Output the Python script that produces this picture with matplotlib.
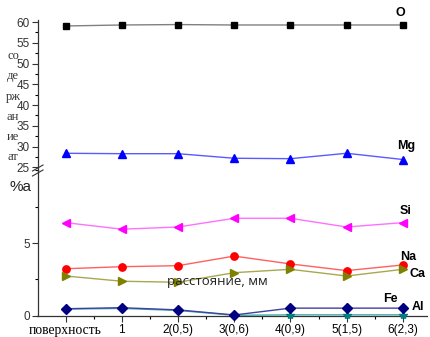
import matplotlib
matplotlib.use("Agg")
import matplotlib.pyplot as plt
from matplotlib.ticker import MultipleLocator, FixedLocator
from matplotlib.lines import Line2D

categories = ["поверхность", "1", "2(0,5)", "3(0,6)", "4(0,9)", "5(1,5)", "6(2,3)"]
O = [59.06, 59.3, 59.4, 59.3, 59.3, 59.3, 59.3]
Mg = [28.4, 28.3, 28.3, 27.2, 27.1, 28.4, 26.9]
Si = [6.4, 5.95, 6.1, 6.7, 6.7, 6.1, 6.4]
Na = [3.23, 3.37, 3.44, 4.1, 3.56, 3.1, 3.49]
Ca = [2.73, 2.37, 2.3, 2.96, 3.19, 2.73, 3.19]
Fe = [0.48, 0.55, 0.4, 0.05, 0.52, 0.52, 0.52]
Al = [0.45, 0.5, 0.36, 0.03, 0.06, 0.06, 0.06]
ylabel_parts = ["со", "де", "рж", "ан", "ие", "ат"]
xlabel = "расстояние, мм"

W, H = 430, 337
fig = plt.figure(figsize=(W / 100, H / 100), dpi=100)

def fx(px):
    return px / W

def fy(py):
    return 1 - py / H

left = fx(37.5)
width = fx(427) - left
ax_lo = fig.add_axes([left, fy(315.7), width, fy(170.3) - fy(315.7)])
ax_hi = fig.add_axes([left, fy(170.3), width, fy(20) - fy(170.3)])

x = list(range(len(categories)))
series_hi = [(O, "s", "black", "#808080", 5), (Mg, "^", "#0000ff", "#5a5aff", 6)]
series_lo = [
    (Si, "<", "#ff00ff", "#ff70ff", 6),
    (Na, "o", "#ff0000", "#ff6060", 5.3),
    (Ca, ">", "#808000", "#a8a850", 6),
    (Al, "*", "#008080", "#40b0b0", 6),
    (Fe, "D", "#000080", "#4040a0", 4.8),
]
for ax, series in ((ax_hi, series_hi), (ax_lo, series_lo)):
    for vals, m, mc, lc, ms in series:
        ax.plot(x, vals, color=lc, lw=1.0, zorder=2, clip_on=False)
        ax.plot(x, vals, ls="none", marker=m, color=mc, ms=ms, zorder=3, clip_on=False)

for ax in (ax_hi, ax_lo):
    ax.set_xlim(-0.5, 6.43)
    ax.set_facecolor("none")
    for s in ("top", "right"):
        ax.spines[s].set_visible(False)
    ax.tick_params(axis="y", direction="out", length=4, width=0.8, labelsize=8.5, pad=1.5, colors="#333333")
    ax.tick_params(axis="y", which="minor", direction="out", length=2.5, width=0.8)
    for sp in ax.spines.values():
        sp.set_color("#333333")
        sp.set_linewidth(0.9)

ax_hi.set_ylim(24.3, 60.5)
ax_hi.yaxis.set_major_locator(FixedLocator([25, 30, 35, 40, 45, 50, 55, 60]))
ax_hi.yaxis.set_minor_locator(FixedLocator([27.5, 32.5, 37.5, 42.5, 47.5, 52.5, 57.5]))
ax_hi.spines["bottom"].set_visible(False)
ax_hi.set_xticks([])

ax_lo.set_ylim(0, 10)
ax_lo.yaxis.set_major_locator(FixedLocator([0, 5]))
ax_lo.yaxis.set_minor_locator(FixedLocator([2.5, 7.5, 10]))
ax_lo.set_xticks(x)
ax_lo.set_xticklabels(categories)
ax_lo.xaxis.set_minor_locator(FixedLocator([i + 0.5 for i in x[:-1]]))
ax_lo.tick_params(axis="x", direction="out", length=4, width=0.8, labelsize=8.5, pad=2, colors="#333333")
ax_lo.tick_params(axis="x", which="minor", direction="out", length=2.5, width=0.8)
for lbl in ax_lo.get_xticklabels():
    lbl.set_color("black")
ax_lo.get_xticklabels()[0].set_fontfamily("Liberation Serif")
ax_lo.get_xticklabels()[0].set_fontsize(9.8)
for ax in (ax_hi, ax_lo):
    for lbl in ax.get_yticklabels() + ax.get_xticklabels():
        if lbl.get_text() != categories[0]:
            lbl.set_fontfamily("Liberation Sans")

# axis break mark
for dy in (-2.5, 2.5):
    fig.add_artist(Line2D([fx(32.5), fx(43)], [fy(170.5 + dy + 3), fy(170.5 + dy - 3)],
                          color="#333333", lw=0.8))

# element labels
lab_kw = dict(fontsize=9, fontweight="bold", fontfamily="Liberation Sans", color="black")
fig.text(fx(400), fy(13), "O", ha="center", va="center", **lab_kw)
fig.text(fx(406), fy(146), "Mg", ha="center", va="center", **lab_kw)
fig.text(fx(406), fy(211), "Si", ha="center", va="center", **lab_kw)
fig.text(fx(408), fy(257), "Na", ha="center", va="center", **lab_kw)
fig.text(fx(418), fy(274), "Ca", ha="center", va="center", **lab_kw)
fig.text(fx(390), fy(299), "Fe", ha="center", va="center", **lab_kw)
fig.text(fx(418), fy(307), "Al", ha="center", va="center", **lab_kw)

# broken y label
for i, part in enumerate(ylabel_parts):
    fig.text(fx(13), fy(56 + 20.3 * i), part, ha="center", va="center",
             fontsize=9, fontfamily="Liberation Serif", color="#333333")
fig.text(fx(20), fy(187), "%а", ha="center", va="center", fontsize=11,
         fontfamily="Liberation Sans", color="#222222")

fig.text(fx(217), fy(282), xlabel, ha="center", va="center", fontsize=9.5,
         fontfamily="Open Sans", color="#222222")

fig.savefig("out.png", dpi=100)
